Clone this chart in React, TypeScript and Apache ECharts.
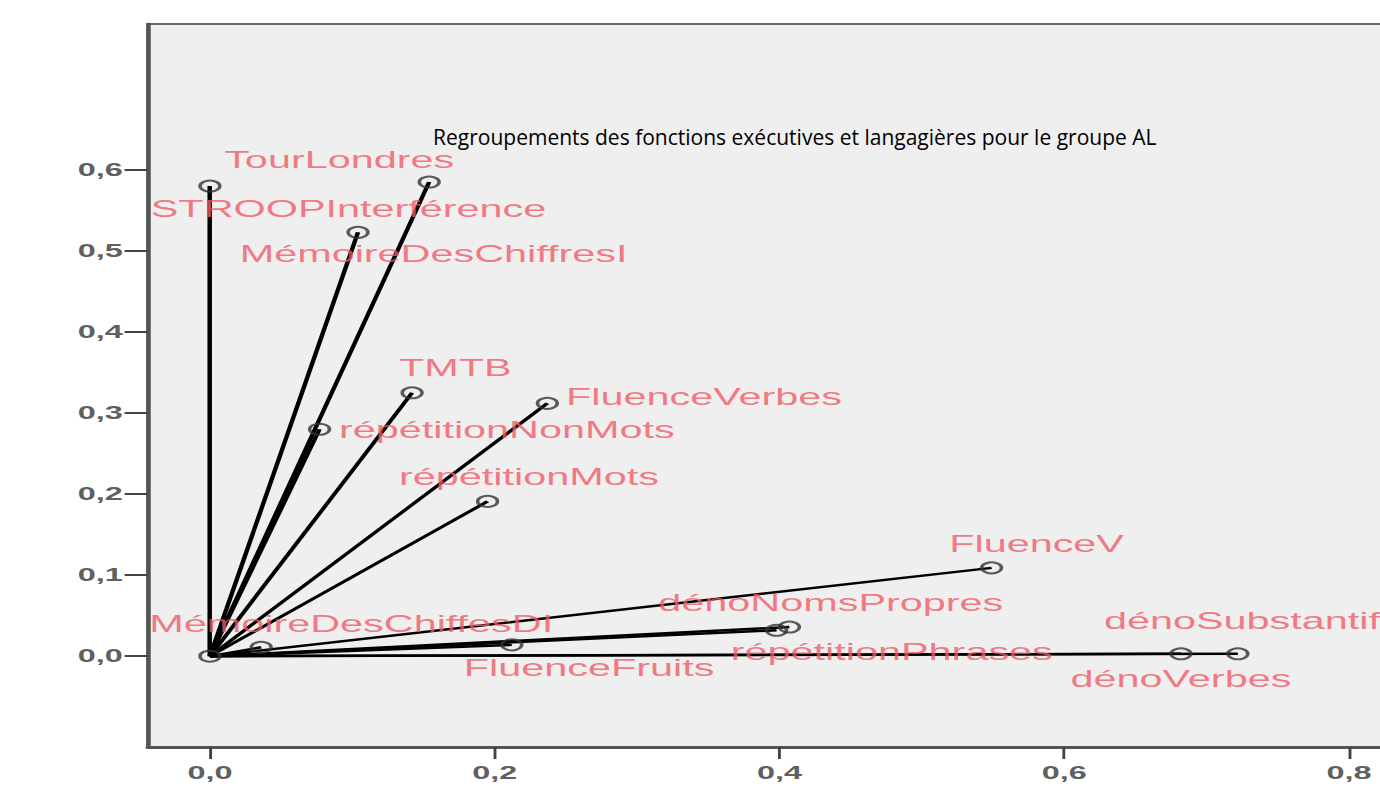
import React, { useEffect, useRef } from "react";
import * as echarts from "echarts";

// horizontal stretch of the original SPSS picture
const S = 1.8;
const CW = 820; // chart width before stretch (wider than the visible page)
const H = 810;

const titleText =
  "Regroupements des fonctions exécutives et langagières pour le groupe AL";

const names = [
  "STROOPInterférence",
  "TourLondres",
  "MémoireDesChiffresI",
  "TMTB",
  "FluenceVerbes",
  "répétitionNonMots",
  "répétitionMots",
  "FluenceV",
  "dénoNomsPropres",
  "répétitionPhrases",
  "dénoSubstantifs",
  "dénoVerbes",
  "FluenceFruits",
  "MémoireDesChiffesDI",
  "",
];
const xValues = [
  0.0, 0.154, 0.104, 0.142, 0.237, 0.077, 0.195, 0.549, 0.407, 0.398, 0.722,
  0.682, 0.212, 0.036, 0.0,
];
const yValues = [
  0.58, 0.585, 0.523, 0.325, 0.312, 0.28, 0.191, 0.109, 0.036, 0.032, 0.003,
  0.003, 0.014, 0.011, 0.0,
];
const yTicks = [0, 0.1, 0.2, 0.3, 0.4, 0.5, 0.6];
const xTicks = [0, 0.2, 0.4, 0.6, 0.8];

// label placement (offset from the marker, in chart units before stretch)
const labelOffsets: [number, number][] = [
  [77, 23],
  [-50, -22],
  [42, 22],
  [24, -25],
  [87, -6],
  [104, 1],
  [23, -24],
  [25, -24],
  [23, -24],
  [64, 22],
  [8, -33],
  [0, 25],
  [43, 23],
  [50, -23],
  [0, 0],
];

const fmt = (v: number) => v.toFixed(1).replace(".", ",");

export default function App() {
  const ref = useRef<HTMLDivElement>(null);
  useEffect(() => {
    if (!ref.current) return;
    const chart = echarts.init(ref.current, undefined, { renderer: "svg" });
    const xMin = -0.0435;
    const xMax = 0.85;
    const pxPerUnit = 1423.75 / S;
    const gridLeft = 148 / S;
    const gridRight = CW - (gridLeft + (xMax - xMin) * pxPerUnit);
    const labelFont = "'Liberation Sans', Arial, sans-serif";
    chart.setOption({
      animation: false,
      backgroundColor: "#ffffff",
      grid: {
        left: gridLeft,
        right: gridRight,
        top: 24,
        bottom: 63,
        show: true,
        backgroundColor: "#efefef",
        borderColor: "#6a6a6a",
        borderWidth: 2,
      },
      graphic: [
        {
          type: "text",
          x: 433 / S,
          y: 137,
          scaleX: 1 / S,
          z: 100,
          style: {
            text: titleText,
            fontSize: 21,
            fontFamily: "'Open Sans', sans-serif",
            fill: "#000",
            align: "left",
            verticalAlign: "middle",
          },
        },
      ],
      xAxis: {
        type: "value",
        min: xMin,
        max: xMax,
        axisLine: { show: true, onZero: false, lineStyle: { color: "#555", width: 3 } },
        axisTick: {
          show: true,
          length: 12,
          customValues: xTicks,
          lineStyle: { color: "#444", width: 1.6 },
        },
        axisLabel: {
          customValues: xTicks,
          formatter: fmt,
          fontSize: 18,
          fontWeight: "bold",
          color: "#606060",
          margin: 17,
          fontFamily: labelFont,
        },
        splitLine: { show: false },
      },
      yAxis: {
        type: "value",
        min: -0.112,
        max: 0.78,
        axisLine: { show: true, onZero: false, lineStyle: { color: "#555", width: 2.5 } },
        axisTick: {
          show: true,
          length: 13,
          customValues: yTicks,
          lineStyle: { color: "#444", width: 2 },
        },
        axisLabel: {
          customValues: yTicks,
          formatter: fmt,
          fontSize: 18,
          fontWeight: "bold",
          color: "#606060",
          margin: 14,
          fontFamily: labelFont,
        },
        splitLine: { show: false },
      },
      series: [
        {
          type: "lines",
          coordinateSystem: "cartesian2d",
          silent: true,
          z: 2,
          lineStyle: { color: "#000", width: 2.5, opacity: 1, curveness: 0 },
          data: xValues.map((x, i) => ({ coords: [[0, 0], [x, yValues[i]]] })),
        },
        {
          type: "scatter",
          z: 3,
          symbol: "circle",
          symbolSize: 11,
          itemStyle: { color: "rgba(0,0,0,0)", borderColor: "#333", borderWidth: 2 },
          label: {
            show: true,
            position: "inside",
            formatter: "{b}",
            color: "#f05a66",
            fontSize: 23,
            fontFamily: labelFont,
            align: "center",
            verticalAlign: "middle",
          },
          data: xValues.map((x, i) => ({
            name: names[i],
            value: [x, yValues[i]],
            label: { offset: labelOffsets[i] },
          })),
        },
      ],
    });
    return () => chart.dispose();
  }, []);
  return (
    <div
      style={{
        position: "absolute",
        left: 0,
        top: 0,
        width: 1380,
        height: 810,
        overflow: "hidden",
        background: "#fff",
      }}
    >
      <div
        ref={ref}
        style={{
          width: CW,
          height: H,
          transform: `scaleX(${S})`,
          transformOrigin: "0 0",
        }}
      />
    </div>
  );
}
